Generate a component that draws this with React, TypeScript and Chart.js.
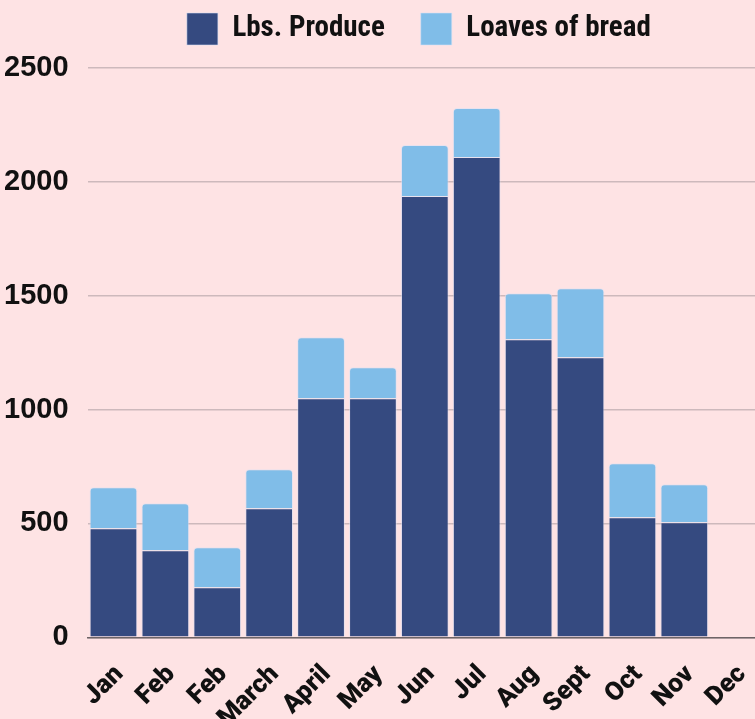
import React, { useEffect, useRef } from "react";
import { Chart, registerables } from "chart.js";

Chart.register(...registerables);

const months = ["Jan", "Feb", "Feb", "March", "April", "May", "Jun", "Jul", "Aug", "Sept", "Oct", "Nov", "Dec"];
const lbsProduce = [479, 382, 220, 567, 1050, 1050, 1938, 2109, 1309, 1230, 527, 505, 0];
const loavesOfBread = [180, 207, 175, 171, 268, 136, 224, 215, 202, 303, 237, 167, 0];
const yTicks = [0, 500, 1000, 1500, 2000, 2500];

const BG = "#fee3e4";
const LEGEND_PAD = 36;
const LEGEND_HEIGHT = 91;
const SHIFT = 23;
const CANVAS_W = 804;
const CANVAS_H = 756;

const legendFit = {
  id: "legendFit",
  beforeInit(chart: any) {
    const lg = chart.legend;
    if (!lg) return;
    const orig = lg.fit.bind(lg);
    lg.fit = function () {
      orig();
      this.height = LEGEND_HEIGHT;
    };
  },
  afterLayout(chart: any) {
    const lg = chart.legend;
    if (!lg) return;
    lg.left -= 6;
    lg.right -= 6;
  },
};

export default function App() {
  const ref = useRef<HTMLCanvasElement | null>(null);
  useEffect(() => {
    document.body.style.margin = "0";
    document.body.style.background = BG;
    const canvas = ref.current!;
    const chart = new Chart(canvas, {
      type: "bar",
      data: {
        labels: months,
        datasets: [
          {
            label: "Lbs. Produce",
            data: lbsProduce,
            backgroundColor: "#354a80",
            borderColor: "rgba(215,225,245,0.55)",
            borderWidth: 1,
            borderSkipped: "bottom",
          },
          {
            label: "Loaves of bread",
            data: loavesOfBread,
            backgroundColor: "#80bde8",
            borderColor: "rgba(215,225,245,0.55)",
            borderWidth: 1,
            borderSkipped: "bottom",
            borderRadius: { topLeft: 4, topRight: 4, bottomLeft: 0, bottomRight: 0 },
          },
        ],
      },
      plugins: [legendFit],
      options: {
        animation: false,
        responsive: false,
        maintainAspectRatio: false,
        layout: { padding: { left: 8, top: 13 - LEGEND_PAD, right: 0, bottom: 0 } },
        datasets: { bar: { barPercentage: 0.92, categoryPercentage: 1 } },
        plugins: {
          legend: {
            position: "top",
            fullSize: false,
            labels: {
              boxWidth: 31,
              boxHeight: 32,
              padding: LEGEND_PAD,
              color: "#111",
              font: { family: "'Liberation Sans Narrow', 'Roboto Condensed', 'Arial Narrow', sans-serif", weight: "bold", size: 29 },
            },
          },
          tooltip: { enabled: false },
        },
        scales: {
          x: {
            stacked: true,
            grid: { display: false, drawTicks: false },
            border: { display: true, color: "#6e6466", width: 1.5 },
            ticks: {
              color: "#111",
              maxRotation: 45,
              minRotation: 45,
              padding: 22,
              labelOffset: 6,
              autoSkip: false,
              font: { family: "Roboto, sans-serif", weight: "900", size: 26 },
            },
          },
          y: {
            stacked: true,
            min: 0,
            max: 2500,
            afterBuildTicks: (axis: any) => {
              axis.ticks = yTicks.map((v) => ({ value: v }));
            },
            grid: { color: "#cdb9bc", lineWidth: 1.5, drawTicks: false },
            border: { display: false },
            ticks: {
              color: "#111",
              padding: 19,
              callback: (v: any) => String(v),
              font: { family: "'Liberation Sans', Arial, sans-serif", weight: "bold", size: 29 },
            },
          },
        },
      },
    });
    return () => chart.destroy();
  }, []);
  return (
    <div style={{ width: 755, height: 719, overflow: "hidden", background: BG, position: "relative" }}>
      <canvas
        ref={ref}
        width={CANVAS_W}
        height={CANVAS_H}
        style={{ display: "block", width: CANVAS_W, height: CANVAS_H, marginLeft: -SHIFT }}
      />
    </div>
  );
}
